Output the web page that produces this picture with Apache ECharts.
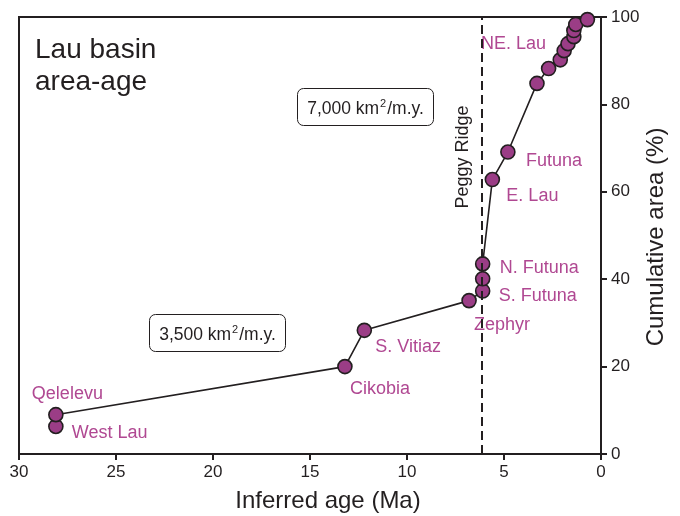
<!DOCTYPE html>
<html>
<head>
<meta charset="utf-8">
<script src="https://cdn.jsdelivr.net/npm/echarts@6/dist/echarts.min.js"></script>
<style>
  html, body { margin: 0; padding: 0; background: #fff; }
  #chart { width: 680px; height: 516px; }
</style>
</head>
<body>
<div id="chart"></div>
<script>
// Inferred opening age (Ma) and cumulative basin area (%) for each Lau basin segment
var ages  = [28.1, 28.1, 13.2, 12.2, 6.8, 6.1, 6.1, 6.1, 5.6, 4.8, 3.3, 2.7, 2.1, 1.9, 1.7, 1.4, 1.4, 1.3, 0.7];
var areas = [6.3, 9.0, 20.0, 28.3, 35.1, 37.3, 40.1, 43.5, 62.8, 69.1, 84.8, 88.2, 90.2, 92.3, 93.9, 95.5, 96.9, 98.3, 99.4];
var names = ['West Lau', 'Qelelevu', 'Cikobia', 'S. Vitiaz', 'Zephyr', 'S. Futuna', '', 'N. Futuna',
             'E. Lau', 'Futuna', '', '', '', '', 'NE. Lau', '', '', '', ''];
var ridgeAge = 6.16;               // Peggy Ridge
var xTicks = [0, 5, 10, 15, 20, 25, 30];
var yTicks = [0, 20, 40, 60, 80, 100];
var rateValues = ['7,000', '3,500'];  // spreading rate, km²/m.y.

var INK = '#231f20';
var DOT = '#9b3d86';
var NAME = '#b04892';
var FONT = '"Liberation Sans", Arial, Helvetica, sans-serif';

// label placement around each point: [dx, dy, align]
var labelPlace = {
  'West Lau':  [16, 7, 'left'],
  'Qelelevu':  [-24, -21, 'left'],
  'Cikobia':   [5, 22, 'left'],
  'S. Vitiaz': [11, 17, 'left'],
  'Zephyr':    [5, 24, 'left'],
  'S. Futuna': [16, 5, 'left'],
  'N. Futuna': [17, 4, 'left'],
  'E. Lau':    [14, 16, 'left'],
  'Futuna':    [18, 9, 'left'],
  'NE. Lau':   [-22, 0, 'right']
};

var points = ages.map(function (a, i) {
  var item = { value: [a, areas[i]], name: names[i] };
  var p = labelPlace[names[i]];
  if (p) {
    item.label = { show: true, position: 'inside', offset: [p[0], p[1]], align: p[2], verticalAlign: 'middle' };
  }
  return item;
});

function rateBox(x, y, w, h, value) {
  return {
    type: 'group', left: x, top: y,
    children: [
      { type: 'rect', shape: { x: 0, y: 0, width: w, height: h, r: 6 },
        style: { fill: '#fff', stroke: INK, lineWidth: 1 } },
      { type: 'text', x: w / 2, y: h / 2 + 1,
        style: {
          text: '{t|' + value + ' km}{s|2}{t|/m.y.}',
          align: 'center', verticalAlign: 'middle',
          rich: {
            t: { fill: INK, fontSize: 17.5, fontFamily: FONT, lineHeight: 20, verticalAlign: 'bottom' },
            s: { fill: INK, fontSize: 11, fontFamily: FONT, lineHeight: 20, verticalAlign: 'top', padding: [0, 1, 0, 1] }
          }
        } }
    ]
  };
}

var chart = echarts.init(document.getElementById('chart'));
chart.setOption({
  animation: false,
  grid: { left: 19, right: 79, top: 17, bottom: 62, outerBoundsMode: 'none',
    show: true, borderColor: INK, borderWidth: 2, backgroundColor: 'transparent' },
  xAxis: {
    type: 'value', inverse: true, min: 0, max: 30, interval: 5,
    axisLine: { lineStyle: { color: INK, width: 2 } },
    axisTick: { show: true, length: 6, lineStyle: { color: INK, width: 2 } },
    axisLabel: { color: INK, fontSize: 17, fontFamily: FONT, margin: 10,
      formatter: function (v) { return xTicks.indexOf(v) >= 0 ? String(v) : ''; } },
    splitLine: { show: false },
    name: 'Inferred age (Ma)', nameLocation: 'middle', nameGap: 35,
    nameTextStyle: { color: INK, fontSize: 24, fontFamily: FONT, padding: [0, 0, 0, 36] }
  },
  yAxis: {
    type: 'value', position: 'right', min: 0, max: 100, interval: 20,
    axisLine: { show: true, lineStyle: { color: INK, width: 2 } },
    axisTick: { show: true, length: 6, lineStyle: { color: INK, width: 2 } },
    axisLabel: { color: INK, fontSize: 17, fontFamily: FONT, margin: 10,
      formatter: function (v) { return yTicks.indexOf(v) >= 0 ? String(v) : ''; } },
    splitLine: { show: false }
  },
  series: [{
    type: 'line',
    data: points,
    symbol: 'circle', symbolSize: 14,
    lineStyle: { color: INK, width: 1.6 },
    itemStyle: { color: DOT, borderColor: INK, borderWidth: 1.6 },
    label: { show: false, color: NAME, fontSize: 18, fontFamily: FONT,
      formatter: function (p) { return p.name; } },
    markLine: {
      silent: true, symbol: 'none', animation: false,
      lineStyle: { color: INK, width: 2, type: [9, 5] },
      label: { show: false },
      data: [{ xAxis: ridgeAge }]
    },
    z: 3
  }],
  graphic: [
    { type: 'text', left: 35, top: 34,
      style: { text: 'Lau basin\narea-age', fill: INK, font: '28px ' + FONT, lineHeight: 32 } },
    { type: 'text', x: 463, y: 157, rotation: Math.PI / 2,
      style: { text: 'Peggy Ridge', fill: INK, font: '18px ' + FONT, align: 'center', verticalAlign: 'middle' } },
    // y-axis title
    { type: 'text', x: 656, y: 237, rotation: Math.PI / 2,
      style: { text: 'Cumulative area (%)', fill: INK, font: '24px ' + FONT, align: 'center', verticalAlign: 'middle' } },
    rateBox(297, 88, 136, 37, rateValues[0]),
    rateBox(149, 314, 136, 37, rateValues[1])
  ]
});
</script>
</body>
</html>
